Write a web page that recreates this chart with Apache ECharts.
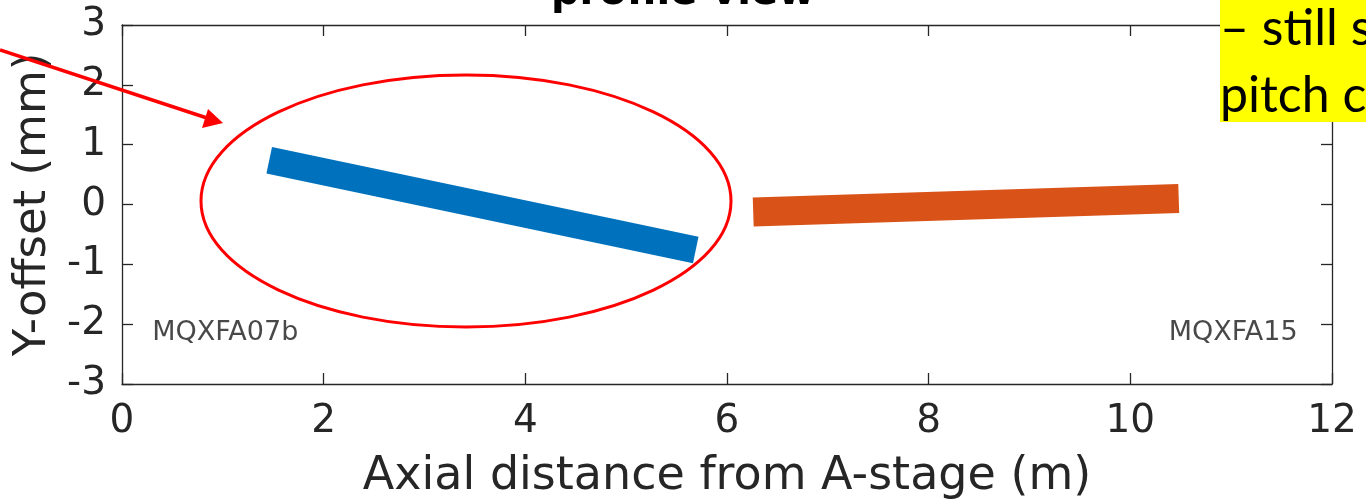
<!DOCTYPE html>
<html>
<head>
<meta charset="utf-8">
<script src="https://cdn.jsdelivr.net/npm/echarts@6/dist/echarts.min.js"></script>
<style>
  html,body{margin:0;padding:0;background:#fff;}
  #chart{width:1366px;height:500px;}
</style>
</head>
<body>
<div id="chart"></div>
<script>
// magnet traces: axial distance (m) vs Y-offset (mm)
var magnetNames=['MQXFA07b','MQXFA15'];
var blueX=[1.46,5.69];
var blueY=[0.74,-0.76];
var orangeX=[6.26,10.48];
var orangeY=[-0.125,0.10];
// label anchors (data coords)
var labelX=[0.30,10.38];
var labelY=[-2.15,-2.15];
// axis ranges
var xRange=[0,12,2];
var yRange=[-3,3,1];

var axisColor='#262626';
var font='DejaVu Sans';

var chart=echarts.init(document.getElementById('chart'),null,{renderer:'canvas'});

function pairs(xs,ys){
    return xs.map(function(x,i){return [x,ys[i]];});
}

function baseAxis(extra){
    var a={
        type:'value',
        axisLine:{show:true,onZero:false,lineStyle:{color:axisColor,width:1.3}},
        axisTick:{show:true,inside:true,length:11,lineStyle:{color:axisColor,width:1.3}},
        splitLine:{show:false},
    };
    return Object.assign(a,extra);
}

var option={
    animation:false,
    backgroundColor:'#fff',
    grid:{left:122,right:34,top:25,bottom:116,containLabel:false,outerBoundsMode:'none'},
    xAxis:[
        baseAxis({
            position:'bottom',
            min:xRange[0],max:xRange[1],interval:xRange[2],
            name:'Axial distance from A-stage (m)',
            nameLocation:'middle',
            nameGap:70,
            nameTextStyle:{fontFamily:font,fontSize:46,color:axisColor},
            axisLabel:{fontFamily:font,fontSize:39,color:axisColor,margin:18},
        }),
        baseAxis({
            position:'top',
            min:xRange[0],max:xRange[1],interval:xRange[2],
            axisLabel:{show:false},
        }),
    ],
    yAxis:[
        baseAxis({
            position:'left',
            min:yRange[0],max:yRange[1],interval:yRange[2],
            name:'Y-offset (mm)',
            nameLocation:'middle',
            nameGap:62,
            nameTextStyle:{fontFamily:font,fontSize:45,color:axisColor},
            axisLabel:{fontFamily:font,fontSize:39,color:axisColor,margin:16},
        }),
        baseAxis({
            position:'right',
            min:yRange[0],max:yRange[1],interval:yRange[2],
            axisLabel:{show:false},
        }),
    ],
    series:[
        {
            name:magnetNames[0],
            type:'line',
            data:pairs(blueX,blueY),
            symbol:'none',
            lineStyle:{color:'#0072BD',width:27,cap:'butt'},
            z:3,
        },
        {
            name:magnetNames[1],
            type:'line',
            data:pairs(orangeX,orangeY),
            symbol:'none',
            lineStyle:{color:'#D95319',width:29,cap:'butt'},
            z:3,
        },
        {
            type:'scatter',
            symbolSize:0,
            data:labelX.map(function(x,i){return {name:magnetNames[i],value:[x,labelY[i]]};}),
            label:{
                show:true,
                position:'right',
                distance:0,
                formatter:'{b}',
                fontFamily:font,
                fontSize:27,
                color:'#1a1a1a',
            },
            silent:true,
        },
    ],
    graphic:[
        // cut-off slide title
        {
            type:'text',
            left:'center',
            top:-26,
            style:{text:'profile view',font:'bold 40px "DejaVu Sans"',fill:'#000'},
            z:1,
        },
        // red ellipse around the blue trace
        {
            type:'ellipse',
            shape:{cx:466,cy:201,rx:265,ry:126},
            style:{fill:null,stroke:'#FF0000',lineWidth:3},
            z:10,
        },
        // red arrow
        {
            type:'line',
            shape:{x1:0,y1:50,x2:207,y2:118},
            style:{stroke:'#FF0000',lineWidth:3.5},
            z:10,
        },
        {
            type:'polygon',
            shape:{points:[[223,123],[202,128],[208,109]]},
            style:{fill:'#FF0000'},
            z:10,
        },
        // yellow highlighted slide text
        {
            type:'rect',
            shape:{x:1220,y:0,width:146,height:122},
            style:{fill:'#FFFF00'},
            z:20,
        },
        {
            type:'text',
            x:1220,
            y:-5,
            style:{
                text:'\u2013 still s\npitch c',
                font:'50px Lato',
                lineHeight:67,
                fill:'#000',
            },
            z:21,
        },
    ],
};

chart.setOption(option);
</script>
</body>
</html>
